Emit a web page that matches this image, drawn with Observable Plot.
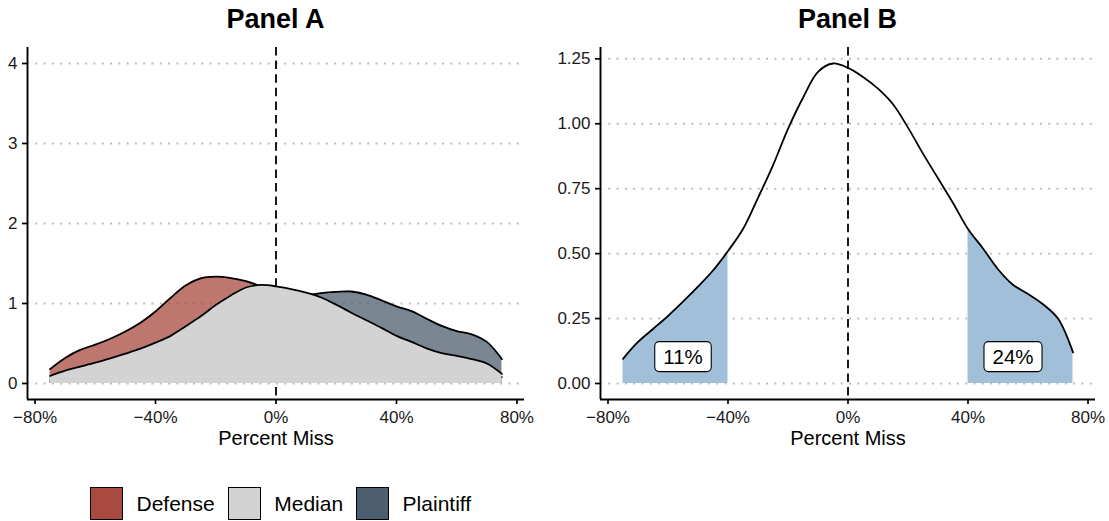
<!DOCTYPE html>
<html>
<head>
<meta charset="utf-8">
<script src="https://cdn.jsdelivr.net/npm/d3@7"></script>
<script src="https://cdn.jsdelivr.net/npm/@observablehq/plot@0.6"></script>
<style>
  body { margin: 0; background: #fff; font-family: "Liberation Sans", Arial, sans-serif; }
  #page { position: relative; width: 1109px; height: 521px; overflow: hidden; background: #fff; }
  .panel { position: absolute; top: 0; }
  .ptitle { position: absolute; top: 6px; font-weight: bold; font-size: 27px; line-height: 1;
            white-space: nowrap; transform: translateX(-50%); color: #000; }
  #legend { position: absolute; left: 90px; top: 487px; height: 33px; display: flex;
            align-items: center; font-size: 21px; color: #000; }
  .key { width: 33px; height: 33px; box-sizing: border-box; border: 1.6px solid #000; margin-right: 13.5px; }
  .lab { margin-right: 13px; }
</style>
</head>
<body>
<div id="page"></div>
<script>
// Percent-miss grid shared by every density curve
const missPct = [-75, -70, -65, -60, -55, -50, -45, -40, -35, -30, -25, -20, -15, -10, -5,
                 0, 5, 10, 15, 20, 25, 30, 35, 40, 45, 50, 55, 60, 65, 70, 75];

// Density estimates for each group
const defense = [0.18, 0.32, 0.42, 0.485, 0.56, 0.65, 0.76, 0.90, 1.07, 1.225, 1.315, 1.335, 1.318, 1.28, 1.21,
                 1.10, 0.98, 0.87, 0.76, 0.66, 0.57, 0.49, 0.42, 0.36, 0.31, 0.27, 0.23, 0.20, 0.16, 0.12, 0.08];
const median = [0.095, 0.16, 0.21, 0.26, 0.315, 0.373, 0.435, 0.51, 0.595, 0.715, 0.84, 0.98, 1.10, 1.20, 1.232,
                1.215, 1.18, 1.135, 1.075, 0.985, 0.885, 0.79, 0.695, 0.595, 0.52, 0.44, 0.38, 0.345, 0.305, 0.25, 0.12];
const plaintiff = [0.03, 0.05, 0.07, 0.10, 0.13, 0.17, 0.22, 0.28, 0.35, 0.43, 0.52, 0.62, 0.73, 0.83, 0.93,
                   1.01, 1.06, 1.10, 1.13, 1.145, 1.15, 1.11, 1.04, 0.965, 0.905, 0.81, 0.72, 0.655, 0.615, 0.52, 0.305];

// Legend groups and colours
const groups = ["Defense", "Median", "Plaintiff"];
const groupColors = ["#a84a3f", "#d3d3d3", "#4d5e6e"];

// Axis ticks and domains
const xTicks = [-80, -40, 0, 40, 80];
const xDomain = [-82.5, 82.5];
const yTicksA = [0, 1, 2, 3, 4];
const yDomainA = [-0.2, 4.2];
const yTicksB = [0, 0.25, 0.5, 0.75, 1, 1.25];
const yDomainB = [-0.0616, 1.2936];

// Tail cut-off and the share of cases in each tail
const tailCut = 40;
const tailLabels = ["11%", "24%"];
const tailLabelX = [-55, 55];
const tailLabelY = [0.1, 0.1];

const rows = vals => missPct.map((x, i) => ({x, y: vals[i]}));
const defenseRows = rows(defense);
const medianRows = rows(median);
const plaintiffRows = rows(plaintiff);
const tailLeft = medianRows.filter(d => d.x <= -tailCut);
const tailRight = medianRows.filter(d => d.x >= tailCut);
const labelRows = tailLabels.map((t, i) => ({x: tailLabelX[i], y: tailLabelY[i], text: t}));

const pct = d => d3.format("d")(d) + "%";
const font = "Liberation Sans, Arial, sans-serif";
const curve = "catmull-rom";
const lineW = 1.8;

function gridAndAxes(yTicks, yDomain, yFormat) {
  return [
    Plot.axisX({ticks: xTicks, tickFormat: pct, tickSize: 5, tickPadding: 6, fontSize: 17,
                label: null, strokeWidth: 1.7, fill: "#1a1a1a"}),
    Plot.axisY({ticks: yTicks, tickFormat: yFormat, tickSize: 5, tickPadding: 5, fontSize: 17,
                label: null, strokeWidth: 1.7, fill: "#1a1a1a"}),
    Plot.ruleY([yDomain[0]], {stroke: "#000", strokeWidth: 1.9}),
    Plot.ruleX([xDomain[0]], {stroke: "#000", strokeWidth: 1.9}),
    Plot.text(["Percent Miss"], {text: d => d, frameAnchor: "bottom", lineAnchor: "middle",
                                 dy: 39, fontSize: 20, fill: "#000"})
  ];
}

const grid = ticks => Plot.ruleY(ticks, {stroke: "#bdbdbd", strokeWidth: 2, strokeDasharray: "2 6.3"});
const zeroLine = Plot.ruleX([0], {stroke: "#000", strokeWidth: 1.8, strokeDasharray: "8.5 5.1"});

// Panel A: the three group densities
const panelA = Plot.plot({
  width: 545, height: 460,
  marginLeft: 27, marginRight: 21, marginTop: 47, marginBottom: 61,
  style: {fontFamily: font, background: "transparent", overflow: "visible"},
  x: {domain: xDomain},
  y: {domain: yDomainA},
  marks: [
    grid(yTicksA),
    zeroLine,
    Plot.areaY(defenseRows, {x: "x", y: "y", fill: groupColors[0], fillOpacity: 0.75, curve}),
    Plot.lineY(defenseRows, {x: "x", y: "y", stroke: "#000", strokeWidth: lineW, curve}),
    Plot.areaY(plaintiffRows, {x: "x", y: "y", fill: groupColors[2], fillOpacity: 0.75, curve}),
    Plot.lineY(plaintiffRows, {x: "x", y: "y", stroke: "#000", strokeWidth: lineW, curve}),
    Plot.areaY(medianRows, {x: "x", y: "y", fill: groupColors[1], curve}),
    Plot.lineY(medianRows, {x: "x", y: "y", stroke: "#000", strokeWidth: lineW, curve}),
    ...gridAndAxes(yTicksA, yDomainA, d3.format("d"))
  ]
});

// Panel B: the median density with both tails shaded
const panelB = Plot.plot({
  width: 564, height: 460,
  marginLeft: 55, marginRight: 14, marginTop: 47, marginBottom: 61,
  style: {fontFamily: font, background: "transparent", overflow: "visible"},
  x: {domain: xDomain},
  y: {domain: yDomainB},
  marks: [
    grid(yTicksB),
    zeroLine,
    Plot.areaY(tailLeft, {x: "x", y: "y", fill: "#a2bfd9", curve}),
    Plot.areaY(tailRight, {x: "x", y: "y", fill: "#a2bfd9", curve}),
    Plot.lineY(medianRows, {x: "x", y: "y", stroke: "#000", strokeWidth: lineW, curve}),
    Plot.text(labelRows, {x: "x", y: "y", text: "text", fontSize: 20.5, fill: "#000"}),
    ...gridAndAxes(yTicksB, yDomainB, d3.format(".2f"))
  ]
});

const page = document.getElementById("page");
[[panelA, 0, "Panel A", 275.5], [panelB, 545, "Panel B", 847.5]].forEach(([svg, left, title, cx]) => {
  svg.classList.add("panel");
  svg.style.left = left + "px";
  page.appendChild(svg);
  const t = document.createElement("div");
  t.className = "ptitle";
  t.style.left = cx + "px";
  t.textContent = title;
  page.appendChild(t);
});

// White rounded boxes behind the tail share labels
panelB.querySelectorAll("text").forEach(t => {
  if (!tailLabels.includes(t.textContent)) return;
  const b = t.getBBox();
  const h = 30, padX = 8.5;
  const r = document.createElementNS("http://www.w3.org/2000/svg", "rect");
  r.setAttribute("x", b.x - padX);
  r.setAttribute("y", b.y + b.height / 2 - h / 2);
  r.setAttribute("width", b.width + 2 * padX);
  r.setAttribute("height", h);
  r.setAttribute("rx", 4.5);
  r.setAttribute("fill", "#fff");
  r.setAttribute("stroke", "#000");
  r.setAttribute("stroke-width", 1.1);
  const tr = t.getAttribute("transform");
  if (tr) r.setAttribute("transform", tr);
  t.parentNode.insertBefore(r, t);
});

// Legend below Panel A
const legend = document.createElement("div");
legend.id = "legend";
groups.forEach((g, i) => {
  const k = document.createElement("div");
  k.className = "key";
  k.style.background = groupColors[i];
  const l = document.createElement("span");
  l.className = "lab";
  l.textContent = g;
  legend.appendChild(k);
  legend.appendChild(l);
});
page.appendChild(legend);
</script>
</body>
</html>
